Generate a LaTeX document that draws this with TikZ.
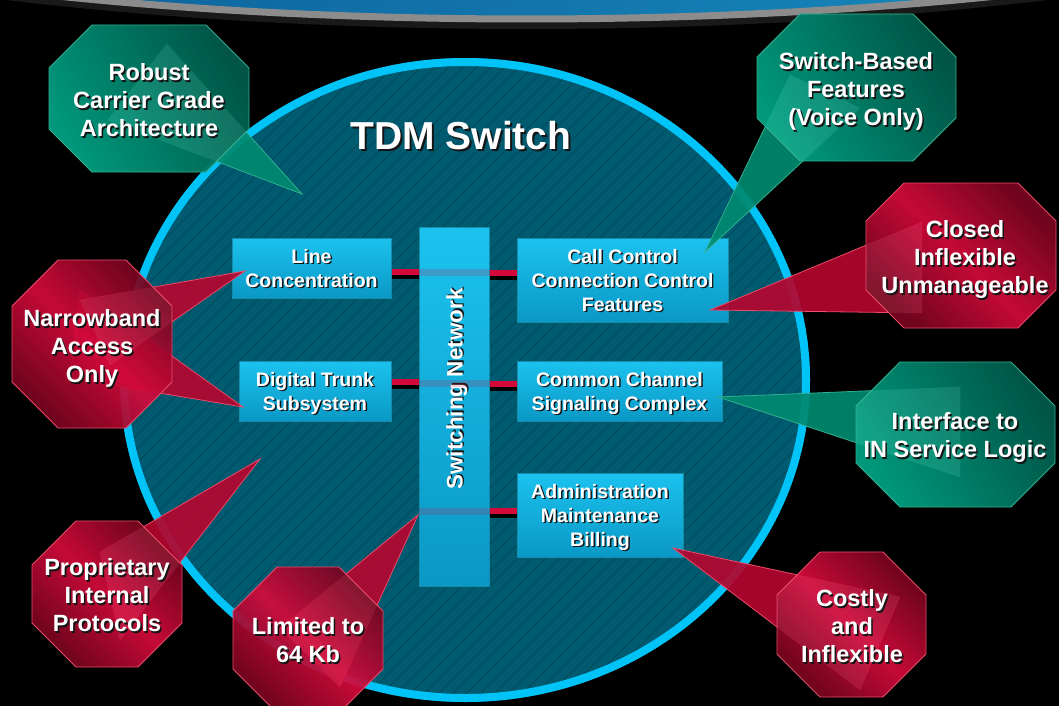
\documentclass[tikz,border=0pt]{standalone}
\usepackage{fontspec}
\setmainfont{Liberation Sans}
\usetikzlibrary{calc}

\definecolor{discFill}{HTML}{005A70}
\definecolor{ringC}{HTML}{00C3F7}
\definecolor{boxTop}{HTML}{1CC2EE}
\definecolor{boxBot}{HTML}{0A98C6}
\definecolor{boxEdge}{HTML}{168CA8}
\definecolor{gLight}{HTML}{00A385}
\definecolor{gMid}{HTML}{008A70}
\definecolor{gDark}{HTML}{005C4C}
\definecolor{gEdge}{HTML}{30B090}
\definecolor{rLight}{HTML}{D40A3C}
\definecolor{rMid}{HTML}{B5062F}
\definecolor{rDark}{HTML}{78051F}
\definecolor{rEdge}{HTML}{EC4A68}
\definecolor{barRed}{HTML}{D4093A}
\definecolor{seaL}{HTML}{0A4E8C}
\definecolor{seaR}{HTML}{1A9CCB}
\definecolor{rimC}{HTML}{8C8C8C}
\definecolor{txtShadow}{HTML}{151515}

% centred multi-line text with a dark drop shadow
\newcommand\shd[2][1.6pt]{\leavevmode\rlap{\kern#1\raisebox{-#1}{\color{txtShadow}\begin{tabular}{@{}c@{}}#2\end{tabular}}}\begin{tabular}{@{}c@{}}#2\end{tabular}}

% octagon path: x1, y1, x2, y2, corner cut
\newcommand\octp[5]{(#1+#5,#2) -- (#3-#5,#2) -- (#3,#2+#5) -- (#3,#4-#5) -- (#3-#5,#4) -- (#1+#5,#4) -- (#1,#4-#5) -- (#1,#2+#5) -- cycle}

% callout: colour family, octagon box, cut, pointer base A, tip, base B
\newcommand\callout[9]{%
  \path[#1ptr] #7 -- #8 -- #9 -- cycle;
  \path[#1oct] \octp{#2}{#3}{#4}{#5}{#6};
  \begin{scope}
    \clip \octp{#2}{#3}{#4}{#5}{#6};
    \fill[white, fill opacity=.07] #7 -- #8 -- #9 -- cycle;
  \end{scope}}

\tikzset{
  hatch/.style={black, opacity=.25, line width=.4pt},
  box/.style={draw=boxEdge, line width=1pt, top color=boxTop, bottom color=boxBot,
    inner sep=0pt},
  blockText/.style={text=white, inner sep=0pt, font=\fontsize{19.5}{24}\selectfont\bfseries},
  barshade/.style={black, line width=5pt},
  redbar/.style={barRed, line width=6pt},
  netband/.style={barRed, line width=7pt, opacity=.18},
  calloutText/.style={text=white, inner sep=0pt, font=\fontsize{23.5}{28}\selectfont\bfseries},
  greenoct/.style={draw=gEdge, line width=.8pt, fill opacity=.93,
    left color=gLight, right color=gDark, shading angle=120},
  redoct/.style={draw=rEdge, line width=.8pt, fill opacity=.93,
    left color=rDark, right color=rDark, middle color=rLight, shading angle=135},
  greenptr/.style={draw=gEdge, line width=.8pt, fill=gMid, fill opacity=.92},
  redptr/.style={draw=rEdge, line width=.8pt, fill=rMid, fill opacity=.92},
}

\begin{document}
\begin{tikzpicture}[x=1pt, y=-1pt]
% canvas
\fill[black] (0,0) rectangle (1059,706);
\useasboundingbox (0,0) rectangle (1059,706);

% sea band along the top edge
\begin{scope}
  \clip (0,0) rectangle (1059,706);
  \draw[black!60!gray, line width=14pt, opacity=.5] (527,-200) ellipse [x radius=1052, y radius=222];
  \fill[left color=seaL, right color=seaR] (527,-200) ellipse [x radius=1052, y radius=219];
  \draw[rimC, line width=7pt] (527,-200) ellipse [x radius=1052, y radius=219];
\end{scope}

% the switch disc
\begin{scope}
  \clip (465,380) ellipse [x radius=345, y radius=322];
  \fill[discFill] (465,380) ellipse [x radius=345, y radius=322];
  \foreach \i in {-330,-316,...,1120} \draw[hatch] (\i,720) -- ++(700,-700);
\end{scope}
\draw[ringC, line width=8pt] (465,380) ellipse [x radius=341, y radius=318];

% functional blocks
\node[box, minimum width=159pt, minimum height=60pt] (LC) at (311.5,268) {};
\node[box, minimum width=152pt, minimum height=60pt] (DT) at (315,391) {};
\node[box, minimum width=70pt, minimum height=359pt] (SN) at (454,406.5) {};
\node[box, minimum width=211pt, minimum height=84pt] (CC) at (622.5,280) {};
\node[box, minimum width=205pt, minimum height=60pt] (CCS) at (619.5,391) {};
\node[box, minimum width=166pt, minimum height=84pt] (AMB) at (600,515) {};

% block captions
\node[blockText] (LCt)  at (311.5,271) {\shd[1.4pt]{Line\\Concentration}};
\node[blockText] (DTt)  at (315,394)   {\shd[1.4pt]{Digital Trunk\\Subsystem}};
\node[blockText] (CCt)  at (622.5,283) {\shd[1.4pt]{Call Control\\Connection Control\\Features}};
\node[blockText] (CCSt) at (619.5,394) {\shd[1.4pt]{Common Channel\\Signaling Complex}};
\node[blockText] (AMBt) at (600,518)   {\shd[1.4pt]{Administration\\Maintenance\\Billing}};
\node[text=white, inner sep=0pt, rotate=90, font=\fontsize{22.5}{26}\selectfont\bfseries] (SNlabel) at (458,389) {\shd[1.4pt]{Switching Network}};

% links into the switching network
\draw[netband] ([yshift=-4pt]LC.east -| SN.west) -- ([yshift=-4pt]LC.east -| SN.east);
\draw[netband] ([yshift=8pt]DT.east -| SN.west) -- ([yshift=8pt]DT.east -| SN.east);
\draw[netband] ([yshift=4pt]AMB.west -| SN.west) -- ([yshift=4pt]AMB.west -| SN.east);

\draw[barshade] ([yshift=-8pt]LC.east) -- ([yshift=-8pt]LC.east -| SN.west);
\draw[redbar]   ([yshift=-4pt]LC.east) -- ([yshift=-4pt]LC.east -| SN.west);
\draw[barshade] ([yshift=3pt]CC.west -| SN.east) -- ([yshift=3pt]CC.west);
\draw[redbar]   ([yshift=7pt]CC.west -| SN.east) -- ([yshift=7pt]CC.west);
\draw[barshade] ([yshift=5pt]DT.east) -- ([yshift=5pt]DT.east -| SN.west);
\draw[redbar]   ([yshift=9pt]DT.east) -- ([yshift=9pt]DT.east -| SN.west);
\draw[barshade] ([yshift=3pt]CCS.west -| SN.east) -- ([yshift=3pt]CCS.west);
\draw[redbar]   ([yshift=7pt]CCS.west -| SN.east) -- ([yshift=7pt]CCS.west);
\draw[barshade] ([yshift=0pt]AMB.west -| SN.east) -- ([yshift=0pt]AMB.west);
\draw[redbar]   ([yshift=4pt]AMB.west -| SN.east) -- ([yshift=4pt]AMB.west);

% title
\node[text=white, inner sep=0pt, font=\fontsize{39}{47}\selectfont\bfseries] (title) at (461,141) {\shd[2pt]{TDM Switch}};

% callout anchor points
\coordinate (robA) at (167,44);   \coordinate (robT) at (302,194);  \coordinate (robB) at (108,120);
\coordinate (swfA) at (790,75);   \coordinate (swfT) at (705,252);  \coordinate (swfB) at (860,108);
\coordinate (infA) at (960,387);  \coordinate (infT) at (718,397);  \coordinate (infB) at (960,477);
\coordinate (cloA) at (922,222);  \coordinate (cloT) at (710,310);  \coordinate (cloB) at (922,313);
\coordinate (narA) at (80,300);   \coordinate (narT) at (245,271);  \coordinate (narB) at (110,365);
\coordinate (narC) at (80,290);   \coordinate (narU) at (243,407);  \coordinate (narD) at (70,378);
\coordinate (proA) at (100,552);  \coordinate (proT) at (260,459);  \coordinate (proB) at (120,640);
\coordinate (limA) at (280,628);  \coordinate (limT) at (418,515);  \coordinate (limB) at (340,687);
\coordinate (cosA) at (900,597);  \coordinate (cosT) at (673,548);  \coordinate (cosB) at (860,690);

% green callouts
\callout{green}{49}{25}{249}{172}{43}{(robA)}{(robT)}{(robB)}
\node[calloutText] (rob) at (149,104) {\shd{Robust\\Carrier Grade\\Architecture}};
\callout{green}{757}{14}{956}{161}{43}{(swfA)}{(swfT)}{(swfB)}
\node[calloutText] (swf) at (856,93) {\shd{Switch-Based\\Features\\(Voice Only)}};
\callout{green}{856}{362}{1055}{507}{44}{(infA)}{(infT)}{(infB)}
\node[calloutText] (iface) at (955,439) {\shd{Interface to\\IN Service Logic}};

% red callouts
\callout{red}{866}{183}{1056}{328}{38}{(cloA)}{(cloT)}{(cloB)}
\node[calloutText] (closed) at (965,261) {\shd{Closed\\Inflexible\\Unmanageable}};
\path[redptr] (narC) -- (narU) -- (narD) -- cycle;
\callout{red}{12}{260}{172}{428}{46}{(narA)}{(narT)}{(narB)}
\node[calloutText] (narrow) at (92,350) {\shd{Narrowband\\Access\\Only}};
\callout{red}{32}{521}{182}{667}{44}{(proA)}{(proT)}{(proB)}
\node[calloutText] (prop) at (107,599) {\shd{Proprietary\\Internal\\Protocols}};
\callout{red}{233}{567}{383}{713}{44}{(limA)}{(limT)}{(limB)}
\node[calloutText] (lim) at (308,644) {\shd{Limited to\\64 Kb}};
\callout{red}{777}{552}{926}{697}{43}{(cosA)}{(cosT)}{(cosB)}
\node[calloutText] (cost) at (852,630) {\shd{Costly\\and\\Inflexible}};
\end{tikzpicture}
\end{document}
